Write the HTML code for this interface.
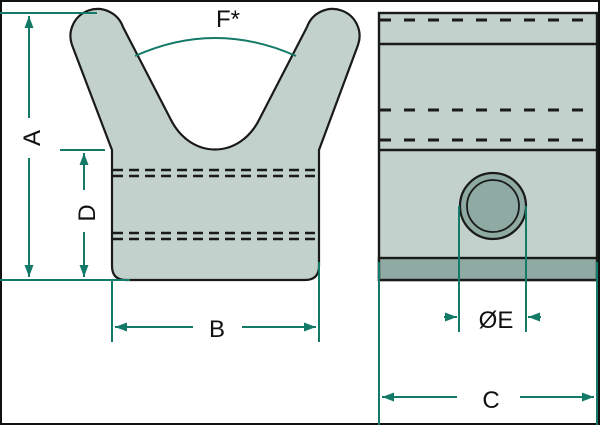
<!DOCTYPE html>
<html><head><style>
html,body{margin:0;padding:0;background:#fff}
svg{display:block}
text{font-family:"Liberation Sans",sans-serif;fill:#111}
</style></head><body>
<svg width="600" height="425" viewBox="0 0 600 425" xmlns="http://www.w3.org/2000/svg">
<defs>
<marker id="ar" viewBox="0 0 12 10" refX="12" refY="5" markerWidth="12" markerHeight="10" markerUnits="userSpaceOnUse" orient="auto"><path d="M0,0.5 L12,5 L0,9.5 Z" fill="#147a68"/></marker>
</defs>
<rect x="1" y="1" width="598" height="423" fill="#fff" stroke="#111" stroke-width="2"/>
<path d="M112,150 L72,45 A26,26 0 0 1 123,27 L170,118 C190,160 240,160 260,118 L307,27 A26,26 0 0 1 358,45 L319,150 L319,266 Q319,280 305,280 L126,280 Q112,280 112,266 Z" fill="#c2d1cc" stroke="#1a1a1a" stroke-width="2.2" stroke-linejoin="round"/>
<g stroke="#1a1a1a" stroke-width="2.6" stroke-dasharray="10,6">
<line x1="113" y1="170" x2="318" y2="170"/><line x1="113" y1="176" x2="318" y2="176"/>
<line x1="113" y1="233" x2="318" y2="233"/><line x1="113" y1="239" x2="318" y2="239"/>
</g>
<path d="M135,56 Q215,20 296,56" fill="none" stroke="#147a68" stroke-width="2"/>
<text x="228" y="27" font-size="24" text-anchor="middle">F*</text>
<g stroke="#147a68" stroke-width="2" fill="none">
<line x1="0" y1="13" x2="97" y2="13"/>
<line x1="0" y1="280" x2="130" y2="280"/>
<line x1="29" y1="118" x2="29" y2="16" marker-end="url(#ar)"/>
<line x1="29" y1="158" x2="29" y2="277" marker-end="url(#ar)"/>
<line x1="60" y1="150" x2="105" y2="150"/>
<line x1="84" y1="190" x2="84" y2="153" marker-end="url(#ar)"/>
<line x1="84" y1="232" x2="84" y2="277" marker-end="url(#ar)"/>
<line x1="112" y1="280" x2="112" y2="342"/>
<line x1="319" y1="262" x2="319" y2="342"/>
<line x1="193" y1="327" x2="115" y2="327" marker-end="url(#ar)"/>
<line x1="242" y1="327" x2="316" y2="327" marker-end="url(#ar)"/>
</g>
<text x="40" y="138" font-size="24" text-anchor="middle" transform="rotate(-90 40 138)">A</text>
<text x="95" y="213" font-size="24" text-anchor="middle" transform="rotate(-90 95 213)">D</text>
<text x="217" y="337" font-size="24" text-anchor="middle">B</text>
<rect x="379" y="13" width="218" height="267" fill="#c2d1cc" stroke="#1a1a1a" stroke-width="2.4"/>
<rect x="379" y="258" width="218" height="22" fill="#8eaaa2" stroke="#1a1a1a" stroke-width="2.4"/>
<g stroke="#1a1a1a" stroke-width="2.4">
<line x1="379" y1="44" x2="597" y2="44"/>
<line x1="379" y1="150" x2="597" y2="150"/>
</g>
<g stroke="#1a1a1a" stroke-width="3" stroke-dasharray="11,13">
<line x1="380" y1="20" x2="596" y2="20"/>
<line x1="380" y1="110" x2="596" y2="110"/>
<line x1="380" y1="140" x2="596" y2="140"/>
</g>
<circle cx="493" cy="206" r="33" fill="#8eaaa2" stroke="#1a1a1a" stroke-width="2.2"/>
<circle cx="493" cy="206" r="26" fill="#8eaaa2" stroke="#1a1a1a" stroke-width="1.8"/>
<g stroke="#147a68" stroke-width="2" fill="none">
<line x1="459" y1="206" x2="459" y2="332"/>
<line x1="526" y1="206" x2="526" y2="332"/>
<line x1="444" y1="317" x2="457" y2="317" marker-end="url(#ar)"/>
<line x1="541" y1="317" x2="528" y2="317" marker-end="url(#ar)"/>
<line x1="379" y1="262" x2="379" y2="425"/>
<line x1="597" y1="262" x2="597" y2="425"/>
<line x1="457" y1="397" x2="382" y2="397" marker-end="url(#ar)"/>
<line x1="520" y1="397" x2="594" y2="397" marker-end="url(#ar)"/>
</g>
<text x="496" y="328" font-size="24" text-anchor="middle">ØE</text>
<text x="491" y="408" font-size="24" text-anchor="middle">C</text>
</svg>
</body></html>
